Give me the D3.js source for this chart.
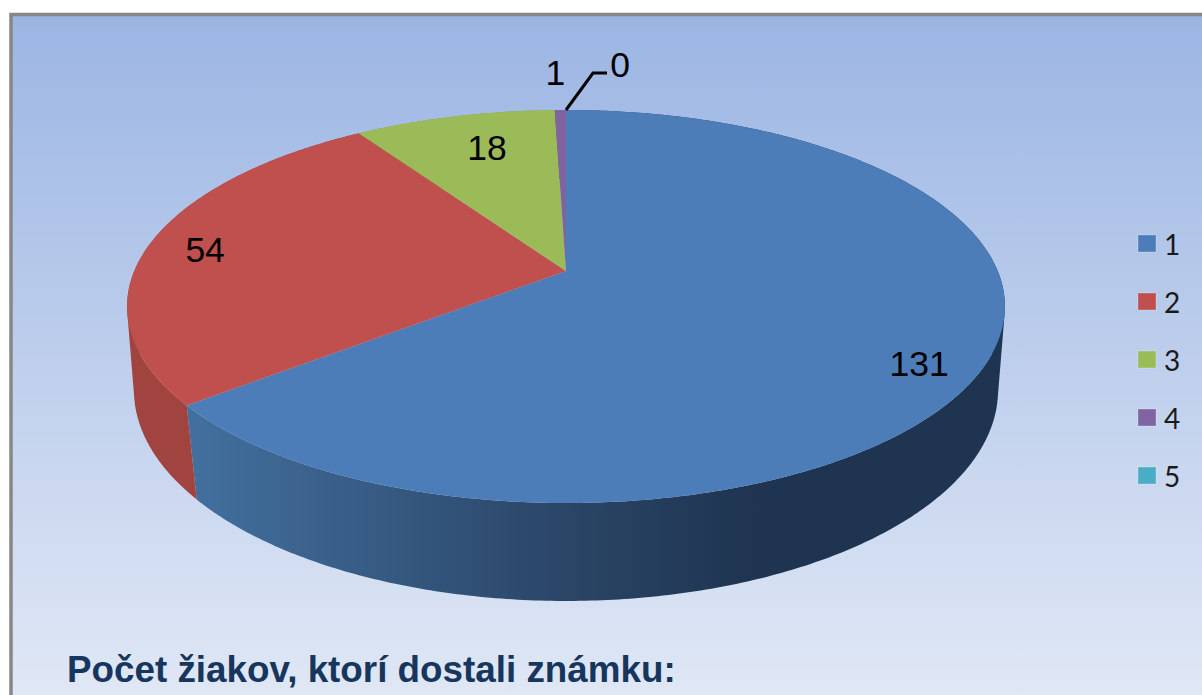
<html>
  <head>
    <meta charset="utf-8">
    <title>Počet žiakov</title>
    <script src="https://cdn.jsdelivr.net/npm/d3@7"></script>
    <style>
body { margin: 0; background: #fff; overflow: hidden; }
svg { display: block; }
.value { font-family: "Liberation Sans", Arial, sans-serif; font-size: 35.5px; fill: #000; text-anchor: middle; dominant-baseline: central; }
.legend { font-family: Lato, sans-serif; font-size: 28px; fill: #1a1a1a; dominant-baseline: central; }
.title { font-family: "Liberation Sans", Arial, sans-serif; font-size: 36.8px; font-weight: bold; fill: #17365d; }
    </style>
  </head>
  <body>
    <script>

var categories = ["1", "2", "3", "4", "5"];
var values = [131, 54, 18, 1, 0];
var colors = ["#4c7db8", "#c0504d", "#9bbb59", "#8064a2", "#4bacc6"];
var wallColors = ["#2f4d72", "#a1433f", "#82a04a", "#6b5488", "#3f90a6"];
var title = "Počet žiakov, ktorí dostali známku:";

var width = 1202,
    height = 695;

var svg = d3.select("body").append("svg")
    .attr("width", width)
    .attr("height", height);

var defs = svg.append("defs");

var bg = defs.append("linearGradient").attr("id", "bg")
    .attr("x1", 0).attr("y1", 0).attr("x2", 0).attr("y2", 1);
bg.append("stop").attr("offset", "0%").attr("stop-color", "#9bb5e3");
bg.append("stop").attr("offset", "100%").attr("stop-color", "#e3eaf6");

// the side of the big slice darkens from left to right
var side = defs.append("linearGradient").attr("id", "side")
    .attr("gradientUnits", "userSpaceOnUse")
    .attr("x1", 188).attr("y1", 0).attr("x2", 760).attr("y2", 0);
side.append("stop").attr("offset", "0%").attr("stop-color", "#42709f");
side.append("stop").attr("offset", "37%").attr("stop-color", "#35587f");
side.append("stop").attr("offset", "66%").attr("stop-color", "#2a4566");
side.append("stop").attr("offset", "100%").attr("stop-color", "#1e3450");

svg.append("rect")
    .attr("x", 11).attr("y", 14.5)
    .attr("width", width + 20).attr("height", height + 20)
    .attr("fill", "url(#bg)")
    .attr("stroke", "#878787").attr("stroke-width", 3.5);

// disc in perspective: far edge is shorter than the near edge
function disc(cx, cy, a, b, p) {
  return function(angle, r) {
    if (r === undefined) r = 1;
    var X = Math.sin(angle) * r,
        Y = -Math.cos(angle) * r,
        w = 1 + p * Y;
    return [cx + a * X / w, cy + b * Y / w];
  };
}
var top_ = disc(566, 271, 431.7, 190.1, -0.1807),
    bottom = disc(566, 356.2, 426.5, 205.6, -0.16);

var pie = d3.pie().sort(null).value(function(d) { return d; });
var slices = pie(values);
var line = d3.line();

function arcPoints(project, s) {
  var n = Math.max(2, Math.ceil((s.endAngle - s.startAngle) * 90));
  return d3.range(n + 1).map(function(i) {
    return project(s.startAngle + (s.endAngle - s.startAngle) * i / n);
  });
}

// wall as many quads with the same winding, so the outline follows the tangent
function wallPath(s) {
  var up = arcPoints(top_, s), down = arcPoints(bottom, s);
  return d3.range(up.length - 1).map(function(i) {
    var quad = [up[i], up[i + 1], down[i + 1], down[i]];
    if (d3.polygonArea(quad) < 0) quad.reverse();
    return line(quad) + "Z";
  }).join("");
}

// walls first, the top of the pie covers whatever is behind
svg.append("g").selectAll("path")
    .data(slices.filter(function(s) { return s.value > 0; }))
  .enter().append("path")
    .attr("d", wallPath)
    .attr("fill", function(s) { return s.index === 0 ? "url(#side)" : wallColors[s.index]; });

svg.append("g").selectAll("path")
    .data(slices.filter(function(s) { return s.value > 0; }))
  .enter().append("path")
    .attr("d", function(s) {
      return line([top_(0, 0)].concat(arcPoints(top_, s))) + "Z";
    })
    .attr("fill", function(s) { return colors[s.index]; });

// label spots: [radius factor, dx, dy]
var labelSpots = [[0.8, 21, 23], [0.8, -27, 2], [0.8, 13, 4], [1, -5, -37], [1, 54, -45]];

svg.append("g").selectAll("text")
    .data(slices)
  .enter().append("text")
    .attr("class", "value")
    .attr("transform", function(s) {
      var spot = labelSpots[s.index],
          pt = top_((s.startAngle + s.endAngle) / 2, spot[0]);
      return "translate(" + (pt[0] + spot[1]) + "," + (pt[1] + spot[2]) + ")";
    })
    .text(function(s) { return s.value; });

// leader of the empty slice
var rim = top_(slices[4].startAngle);
svg.append("path")
    .attr("d", line([rim, [rim[0] + 27, rim[1] - 37], [rim[0] + 41, rim[1] - 37]]))
    .attr("fill", "none")
    .attr("stroke", "#000")
    .attr("stroke-width", 3);

var legendY = d3.scalePoint().domain(categories).range([243.5, 475.5]);

var legend = svg.append("g").selectAll("g")
    .data(categories)
  .enter().append("g")
    .attr("transform", function(d) { return "translate(1138," + legendY(d) + ")"; });

legend.append("rect")
    .attr("x", 0).attr("y", -8.5)
    .attr("width", 18).attr("height", 17)
    .attr("fill", function(d, i) { return colors[i]; })
    .attr("stroke", "#fff").attr("stroke-opacity", 0.25);

legend.append("text")
    .attr("class", "legend")
    .attr("x", 26)
    .text(function(d) { return d; });

svg.append("text")
    .attr("class", "title")
    .attr("x", 67).attr("y", 682)
    .text(title);

</script>
  </body>
</html>
